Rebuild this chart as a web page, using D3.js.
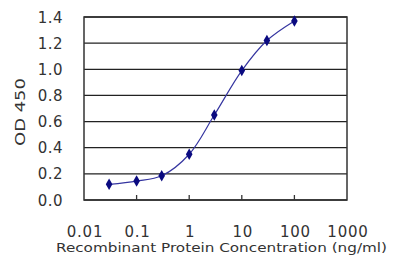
<!DOCTYPE html>
<html>
<head>
<meta charset="utf-8">
<script src="https://cdn.jsdelivr.net/npm/d3@7"></script>
<style>
  body { margin: 0; background: #fff; }
  text { font-family: "DejaVu Sans", "Liberation Sans", Arial, sans-serif; fill: #333; }
</style>
</head>
<body>
<div id="chart"></div>
<script>
// concentration (ng/ml) and OD 450 readings
const concentrations = [0.03, 0.1, 0.3, 1, 3, 10, 30, 100];
const odValues = [0.12, 0.145, 0.185, 0.35, 0.65, 0.99, 1.22, 1.37];
const xTicks = [0.01, 0.1, 1, 10, 100, 1000];
const xTickLabels = ["0.01", "0.1", "1", "10", "100", "1000"];
const yTicks = [0, 0.2, 0.4, 0.6, 0.8, 1.0, 1.2, 1.4];

let width = 400,
    height = 267;

let margin = {left: 84, right: 53, top: 17, bottom: 67};

let svg = d3.select("#chart")
            .append("svg")
            .attr("width", width)
            .attr("height", height);

let x = d3.scaleLog()
          .domain([0.01, 1000])
          .range([margin.left, width - margin.right]);

let y = d3.scaleLinear()
          .domain([0, 1.4])
          .range([height - margin.bottom, margin.top]);

// horizontal grid lines
svg.append("g")
   .selectAll("line")
   .data(yTicks)
   .enter().append("line")
   .attr("x1", x(0.01))
   .attr("x2", x(1000))
   .attr("y1", d => y(d))
   .attr("y2", d => y(d))
   .attr("stroke", "#222")
   .attr("stroke-width", 1.3);

// frame
svg.append("rect")
   .attr("x", x(0.01))
   .attr("y", y(1.4))
   .attr("width", x(1000) - x(0.01))
   .attr("height", y(0) - y(1.4))
   .attr("fill", "none")
   .attr("stroke", "#333")
   .attr("stroke-width", 1.5);

// x ticks pointing inward
svg.append("g")
   .selectAll("line")
   .data(xTicks.slice(1, -1))
   .enter().append("line")
   .attr("x1", d => x(d))
   .attr("x2", d => x(d))
   .attr("y1", y(0))
   .attr("y2", y(0) - 5)
   .attr("stroke", "#333")
   .attr("stroke-width", 1.3);

// y tick labels
svg.append("g")
   .selectAll("text")
   .data(yTicks)
   .enter().append("text")
   .attr("x", 63)
   .attr("y", d => y(d) + 5.5)
   .attr("text-anchor", "end")
   .attr("font-size", 15)
   .attr("letter-spacing", 0.5)
   .text(d => d.toFixed(1));

// x tick labels
svg.append("g")
   .selectAll("text")
   .data(xTicks)
   .enter().append("text")
   .attr("x", d => x(d) + 1)
   .attr("y", 237)
   .attr("text-anchor", "middle")
   .attr("font-size", 15)
   .attr("letter-spacing", 0.8)
   .text((d, i) => xTickLabels[i]);

svg.append("text")
   .attr("x", 56)
   .attr("y", 252)
   .attr("font-size", 13)
   .attr("textLength", 331)
   .attr("lengthAdjust", "spacingAndGlyphs")
   .text("Recombinant Protein Concentration (ng/ml)");

svg.append("text")
   .attr("transform", "translate(24.5," + 112 + ") rotate(-90)")
   .attr("text-anchor", "middle")
   .attr("font-size", 14.5)
   .attr("textLength", 68)
   .attr("lengthAdjust", "spacingAndGlyphs")
   .text("OD 450");

let data = concentrations.map((c, i) => ({c: c, v: odValues[i]}));

let line = d3.line()
             .x(d => x(d.c))
             .y(d => y(d.v))
             .curve(d3.curveCatmullRom);

svg.append("path")
   .datum(data)
   .attr("d", line)
   .attr("fill", "none")
   .attr("stroke", "#3535a0")
   .attr("stroke-width", 1.2);

svg.append("g")
   .selectAll("path")
   .data(data)
   .enter().append("path")
   .attr("d", d3.symbol().type(d3.symbolDiamond).size(38))
   .attr("transform", d => "translate(" + x(d.c) + "," + y(d.v) + ")")
   .attr("fill", "#0a0a80");
</script>
</body>
</html>
